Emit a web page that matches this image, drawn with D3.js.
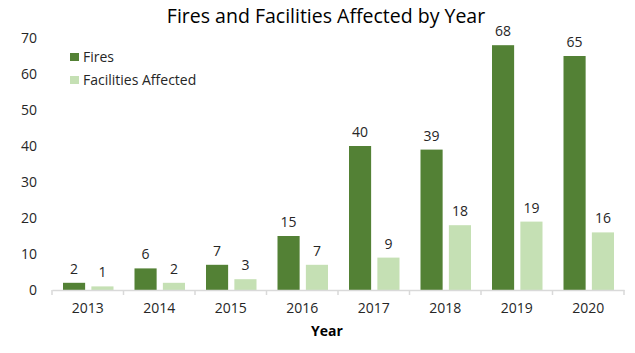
<!DOCTYPE html>
<html>
<head>
<meta charset="utf-8">
<script src="https://cdn.jsdelivr.net/npm/d3@7"></script>
<style>
  body { margin: 0; background: #fff; }
  text { font-family: "Open Sans", sans-serif; fill: #262626; }
</style>
</head>
<body>
<div id="chart"></div>
<script>
const years = ['2013', '2014', '2015', '2016', '2017', '2018', '2019', '2020'];
const fires = [2, 6, 7, 15, 40, 39, 68, 65];
const facilities = [1, 2, 3, 7, 9, 18, 19, 16];
const yTicks = [0, 10, 20, 30, 40, 50, 60, 70];
const seriesNames = ['Fires', 'Facilities Affected'];
const colors = ['#538135', '#c5e0b4'];

const w = 635;
const h = 353;

const svg = d3.select('#chart')
    .append('svg')
    .attr('width', w)
    .attr('height', h);

const xScale = d3.scaleBand()
    .domain(years)
    .range([52, 624]);

const inner = d3.scaleBand()
    .domain(seriesNames)
    .range([11, xScale.bandwidth() - 10])
    .paddingInner(0.22);

const yScale = d3.scaleLinear()
    .domain([0, 70])
    .range([290, 38]);

// title
svg.append('text')
    .attr('x', 326)
    .attr('y', 23)
    .attr('text-anchor', 'middle')
    .style('font-size', '19.5px')
    .style('fill', '#000')
    .text('Fires and Facilities Affected by Year');

// y axis (labels only)
const yAxis = d3.axisLeft(yScale)
    .tickValues(yTicks)
    .tickSize(0)
    .tickPadding(0);

svg.append('g')
    .attr('transform', 'translate(37,0)')
    .call(yAxis)
    .call(g => g.select('.domain').remove())
    .selectAll('text')
    .style('font-size', '14px')
    .style('font-family', '"Open Sans", sans-serif')
    .attr('fill', '#262626');

// bars
const groups = svg.selectAll('g.year')
    .data(years)
    .enter()
    .append('g')
    .attr('class', 'year')
    .attr('transform', d => 'translate(' + xScale(d) + ',0)');

const vals = [fires, facilities];

seriesNames.forEach((s, k) => {
    groups.append('rect')
        .attr('x', inner(s))
        .attr('y', (d, i) => yScale(vals[k][i]))
        .attr('width', inner.bandwidth())
        .attr('height', (d, i) => yScale(0) - yScale(vals[k][i]))
        .attr('fill', colors[k]);

    groups.append('text')
        .attr('x', inner(s) + inner.bandwidth() / 2)
        .attr('y', (d, i) => yScale(vals[k][i]) - 9)
        .attr('text-anchor', 'middle')
        .style('font-size', '14px')
        .text((d, i) => vals[k][i]);
});

// x axis
const xAxis = d3.axisBottom(xScale)
    .tickSize(0)
    .tickPadding(13);

const xg = svg.append('g')
    .attr('transform', 'translate(0,290)')
    .call(xAxis);

xg.select('.domain').attr('stroke', '#d9d9d9').attr('stroke-width', 1.5);
xg.selectAll('text')
    .style('font-size', '14px')
    .style('font-family', '"Open Sans", sans-serif')
    .attr('fill', '#262626');

// tick marks between categories
xg.selectAll('line.sep')
    .data(years.concat(['end']))
    .enter()
    .append('line')
    .attr('class', 'sep')
    .attr('x1', (d, i) => i < years.length ? xScale(d) : xScale(years[years.length - 1]) + xScale.bandwidth())
    .attr('x2', (d, i) => i < years.length ? xScale(d) : xScale(years[years.length - 1]) + xScale.bandwidth())
    .attr('y1', 0)
    .attr('y2', 5)
    .attr('stroke', '#d9d9d9')
    .attr('stroke-width', 1.5);

svg.append('text')
    .attr('x', 327)
    .attr('y', 336)
    .attr('text-anchor', 'middle')
    .style('font-size', '14px')
    .style('font-weight', 'bold')
    .style('fill', '#000')
    .text('Year');

// legend
const legend = svg.append('g')
    .attr('transform', 'translate(70,53)');

seriesNames.forEach((s, k) => {
    legend.append('rect')
        .attr('x', 0)
        .attr('y', k * 23)
        .attr('width', 9)
        .attr('height', 8)
        .attr('fill', colors[k]);
    legend.append('text')
        .attr('x', 13)
        .attr('y', k * 23 + 9)
        .style('font-size', '14px')
        .text(s);
});
</script>
</body>
</html>
